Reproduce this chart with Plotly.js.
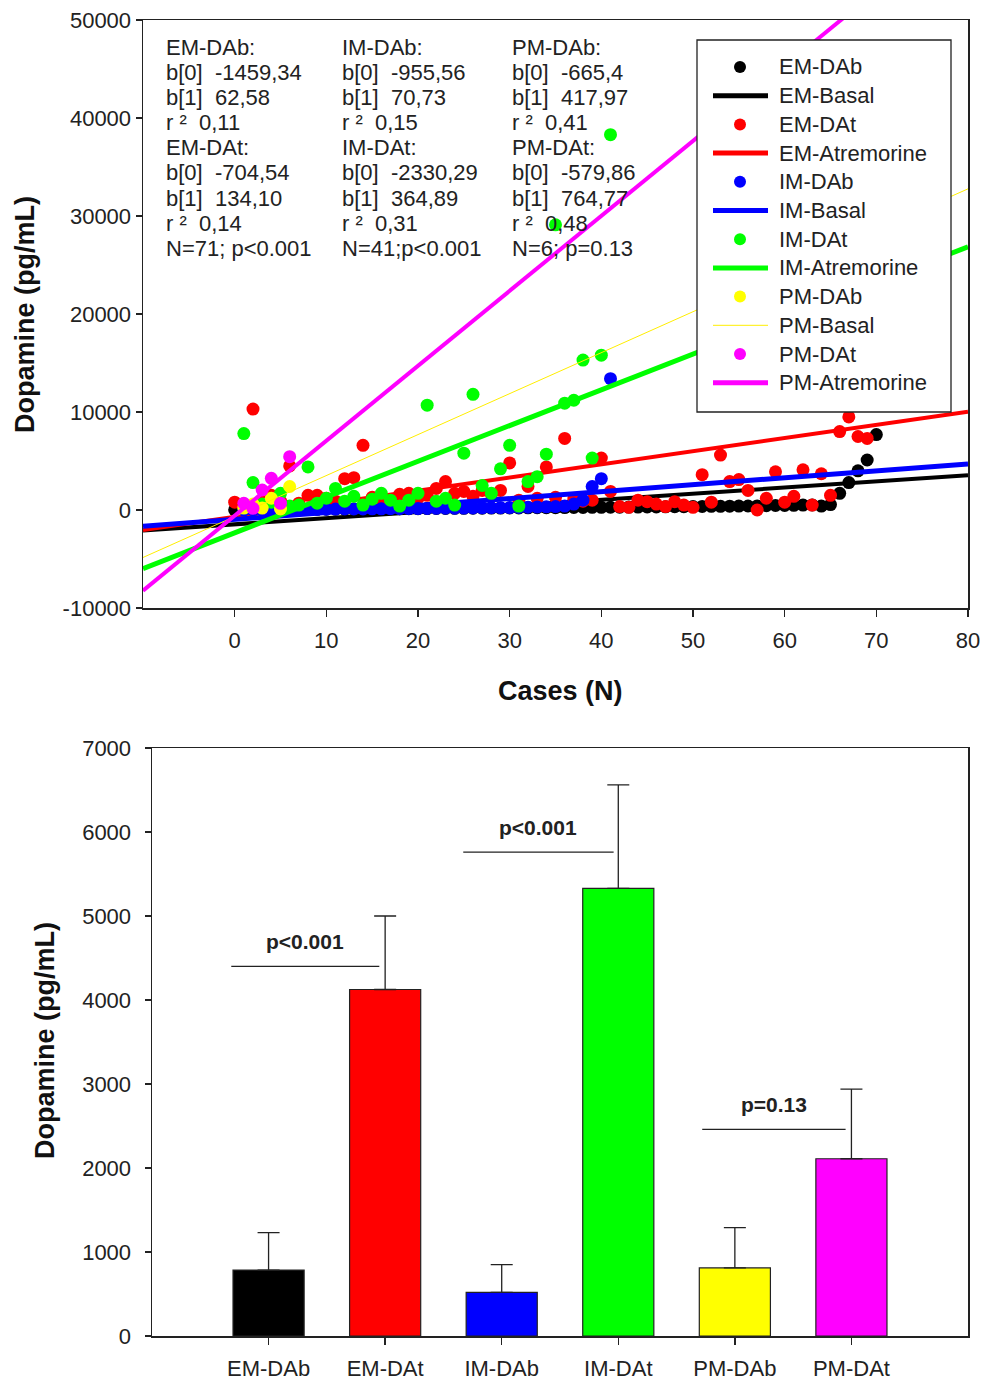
<!DOCTYPE html>
<html>
<head>
<meta charset="utf-8">
<script src="https://cdn.plot.ly/plotly-3.0.1.min.js"></script>
<style>
html,body{margin:0;padding:0;background:#fff;}
#chart{width:984px;height:1383px;}
</style>
</head>
<body>
<div id="chart"></div>
<script>
// ---------- Top panel: scatter data (Cases vs Dopamine) ----------
const casesEM = [0,1,2,3,4,5,6,7,8,9,10,11,12,13,14,15,16,17,18,19,20,21,22,23,24,25,26,27,28,29,30,31,32,33,34,35,36,37,38,39,40,41,42,43,44,45,46,47,48,49,50,51,52,53,54,55,56,57,58,59,60,61,62,63,64,65,66,67,68,69,70];
const casesIM = [1,2,3,4,5,6,7,8,9,10,11,12,13,14,15,16,17,18,19,20,21,22,23,24,25,26,27,28,29,30,31,32,33,34,35,36,37,38,39,40,41];
const casesPM = [1,2,3,4,5,6];

const emDAb = [10,15,20,30,35,40,50,55,60,70,75,80,90,95,100,110,115,120,130,135,140,150,155,160,170,175,180,190,195,200,210,215,220,230,235,240,250,255,260,270,275,280,290,295,300,310,315,320,330,340,350,360,370,380,390,400,410,420,440,460,470,480,500,520,400,550,1700,2800,4000,5100,7700];
const emDAt = [800,600,10300,1000,1500,900,4500,700,1500,1500,1200,900,3200,3300,6600,1300,1100,1000,1600,1700,1200,1500,2200,2900,1700,1900,1400,2000,1600,2000,4800,1000,2400,1200,4400,1300,7300,1100,900,1000,5300,1900,350,270,1000,850,600,350,850,500,270,3600,800,5600,2900,3100,2000,0,1200,3900,800,1400,4100,500,3700,1500,8000,9500,7500,7300,null];
const imDAb = [20,30,40,45,50,60,65,70,80,85,90,100,105,110,120,125,130,140,145,150,160,170,180,190,200,210,220,230,240,250,260,280,300,320,350,400,600,1000,2400,3200,13400];
const imDAt = [7800,2800,600,800,1700,400,500,4400,700,1200,2200,900,1400,500,1100,1700,1000,400,1000,1700,10700,900,1200,500,5800,11800,2500,1700,4200,6600,400,2900,3400,5700,29100,10900,11200,15300,5300,15800,38300];
const pmDAb = [200,600,200,1200,100,2400];
const pmDAt = [680,170,2040,3230,680,5440];

// Regression lines (read at the plot's left and right edges)
const lineNames = ['EM-Basal','EM-Atremorine','IM-Basal','IM-Atremorine','PM-Basal','PM-Atremorine'];
const lineX = [-10, 80];
const lineYStart = [-2085, -2045, -1663, -5979, -4845, -8228];
const lineYEnd   = [3547, 10023, 4703, 26861, 32772, 60602];

const yTickVals = [-10000,0,10000,20000,30000,40000,50000];
const yTickText = ['-10000','0','10000','20000','30000','40000','50000'];
const xTickVals = [0,10,20,30,40,50,60,70,80];

// Regression statistics text blocks
const statsEM = ['EM-DAb:','b[0]  -1459,34','b[1]  62,58','r ²  0,11','EM-DAt:','b[0]  -704,54','b[1]  134,10','r ²  0,14','N=71; p<0.001'];
const statsIM = ['IM-DAb:','b[0]  -955,56','b[1]  70,73','r ²  0,15','IM-DAt:','b[0]  -2330,29','b[1]  364,89','r ²  0,31','N=41;p<0.001'];
const statsPM = ['PM-DAb:','b[0]  -665,4','b[1]  417,97','r ²  0,41','PM-DAt:','b[0]  -579,86','b[1]  764,77','r ²  0,48','N=6; p=0.13'];

// ---------- Bottom panel: bar data ----------
const groups = ['EM-DAb','EM-DAt','IM-DAb','IM-DAt','PM-DAb','PM-DAt'];
const means  = [785, 4125, 520, 5330, 810, 2110];
const sdUp   = [445, 875, 330, 1230, 480, 830];
const barColors = ['#000000','#ff0000','#0000ff','#00ff00','#ffff00','#ff00ff'];
const yTickVals2 = [0,1000,2000,3000,4000,5000,6000,7000];
const sigText = ['p<0.001','p<0.001','p=0.13'];
const sigX0 = [-0.32, 1.67, 3.72];
const sigX1 = [0.95, 2.96, 4.95];
const sigY  = [4400, 5760, 2460];

// ---------- Build ----------
const W = 984, H = 1383;
const px = v => v / W;
const py = v => 1 - v / H;
const FONT = 'Liberation Sans, Arial, sans-serif';
const TXT = '#222';

function pts(name, x, y, color) {
  return {type:'scatter', mode:'markers', name:name, x:x, y:y, xaxis:'x', yaxis:'y',
    marker:{color:color, size:13, line:{width:0}}, showlegend:false};
}
function ln(i, color, width) {
  return {type:'scatter', mode:'lines', name:lineNames[i], x:lineX, y:[lineYStart[i], lineYEnd[i]],
    xaxis:'x', yaxis:'y', line:{color:color, width:width}, showlegend:false};
}

const traces = [
  pts('EM-DAb', casesEM, emDAb, '#000000'),
  ln(0, '#000000', 4),
  pts('EM-DAt', casesEM, emDAt, '#ff0000'),
  ln(1, '#ff0000', 4),
  pts('IM-DAb', casesIM, imDAb, '#0000ff'),
  ln(2, '#0000ff', 5),
  pts('IM-DAt', casesIM, imDAt, '#00ff00'),
  ln(3, '#00ff00', 5),
  pts('PM-DAb', casesPM, pmDAb, '#ffff00'),
  ln(4, '#ffee00', 1),
  pts('PM-DAt', casesPM, pmDAt, '#ff00ff'),
  ln(5, '#ff00ff', 4),
  {type:'bar', x:groups, y:means, xaxis:'x2', yaxis:'y2', showlegend:false, width:0.61,
   marker:{color:barColors, line:{color:'#222', width:1.2}},
   error_y:{type:'data', symmetric:false, array:sdUp, arrayminus:[0,0,0,0,0,0],
            color:'#222', thickness:1.3, width:11}}
];

const annotations = [];
const shapes = [];

// stats text blocks
const colX = [164, 340, 510];
[statsEM, statsIM, statsPM].forEach((block, c) => {
  block.forEach((t, i) => {
    annotations.push({xref:'paper', yref:'paper', x:px(colX[c]), y:py(47 + i*25.2),
      xanchor:'left', yanchor:'middle', showarrow:false,
      text:t.replace(/ /g,'\u00a0'), font:{family:FONT, size:22, color:TXT}});
  });
});

// legend box (drawn by hand to match the original's compact layout)
shapes.push({type:'rect', xref:'paper', yref:'paper', x0:px(697), x1:px(951), y0:py(412), y1:py(40),
  fillcolor:'#fff', line:{color:'#222', width:1.3}, layer:'above'});
traces.filter(t => t.type === 'scatter').forEach((t, i) => {
  const yc = 67 + i * 28.7;
  if (t.mode === 'markers') {
    shapes.push({type:'circle', xref:'paper', yref:'paper', x0:px(734), x1:px(746),
      y0:py(yc + 6), y1:py(yc - 6), fillcolor:t.marker.color, line:{width:0}, layer:'above'});
  } else {
    shapes.push({type:'line', xref:'paper', yref:'paper', x0:px(713), x1:px(768),
      y0:py(yc), y1:py(yc), line:{color:t.line.color, width:t.line.width === 1 ? 1 : 5}, layer:'above'});
  }
  annotations.push({xref:'paper', yref:'paper', x:px(777), y:py(yc), xanchor:'left', yanchor:'middle',
    showarrow:false, text:t.name, font:{family:FONT, size:22, color:TXT}});
});

// axis titles
annotations.push({xref:'paper', yref:'paper', x:px(25), y:py(315), textangle:-90, showarrow:false,
  xanchor:'center', yanchor:'middle', text:'<b>Dopamine (pg/mL)</b>', font:{family:FONT, size:27, color:'#111'}});
annotations.push({xref:'paper', yref:'paper', x:px(560), y:py(691), showarrow:false,
  xanchor:'center', yanchor:'middle', text:'<b>Cases (N)</b>', font:{family:FONT, size:27, color:'#111'}});
annotations.push({xref:'paper', yref:'paper', x:px(45), y:py(1041), textangle:-90, showarrow:false,
  xanchor:'center', yanchor:'middle', text:'<b>Dopamine (pg/mL)</b>', font:{family:FONT, size:27, color:'#111'}});

// significance brackets
sigText.forEach((t, i) => {
  shapes.push({type:'line', xref:'x2', yref:'y2', x0:sigX0[i], x1:sigX1[i], y0:sigY[i], y1:sigY[i],
    line:{color:'#222', width:1.3}});
  annotations.push({xref:'x2', yref:'y2', x:(sigX0[i]+sigX1[i])/2, y:sigY[i], yshift:25,
    xanchor:'center', yanchor:'middle', showarrow:false, text:'<b>'+t+'</b>',
    font:{family:FONT, size:21, color:TXT}});
});

const axCommon = {showline:true, mirror:true, linecolor:'#222', linewidth:1.5, showgrid:false,
  zeroline:false, ticks:'outside', tickcolor:'#222', ticklen:7, tickwidth:1.3,
  tickfont:{family:FONT, size:22, color:TXT}};

const layout = {
  width:W, height:H, margin:{l:0, r:0, t:0, b:0}, paper_bgcolor:'#fff', plot_bgcolor:'#fff',
  showlegend:false,
  xaxis: Object.assign({}, axCommon, {domain:[px(143), px(968)], range:[-10, 80],
    tickvals:xTickVals, anchor:'y', ticklabelstandoff:5}),
  yaxis: Object.assign({}, axCommon, {domain:[py(608), py(20)], range:[-10000, 50000],
    tickvals:yTickVals, ticktext:yTickText, anchor:'x', ticklen:6}),
  xaxis2: Object.assign({}, axCommon, {domain:[px(152), px(968)], range:[-1, 6],
    type:'category', anchor:'y2', ticklen:7, ticklabelstandoff:5}),
  yaxis2: Object.assign({}, axCommon, {domain:[py(1336), py(748)], range:[0, 7000],
    tickvals:yTickVals2, anchor:'x2', ticklen:6, ticklabelstandoff:9}),
  annotations:annotations, shapes:shapes
};

Plotly.newPlot('chart', traces, layout, {staticPlot:true, displayModeBar:false});
</script>
</body>
</html>
